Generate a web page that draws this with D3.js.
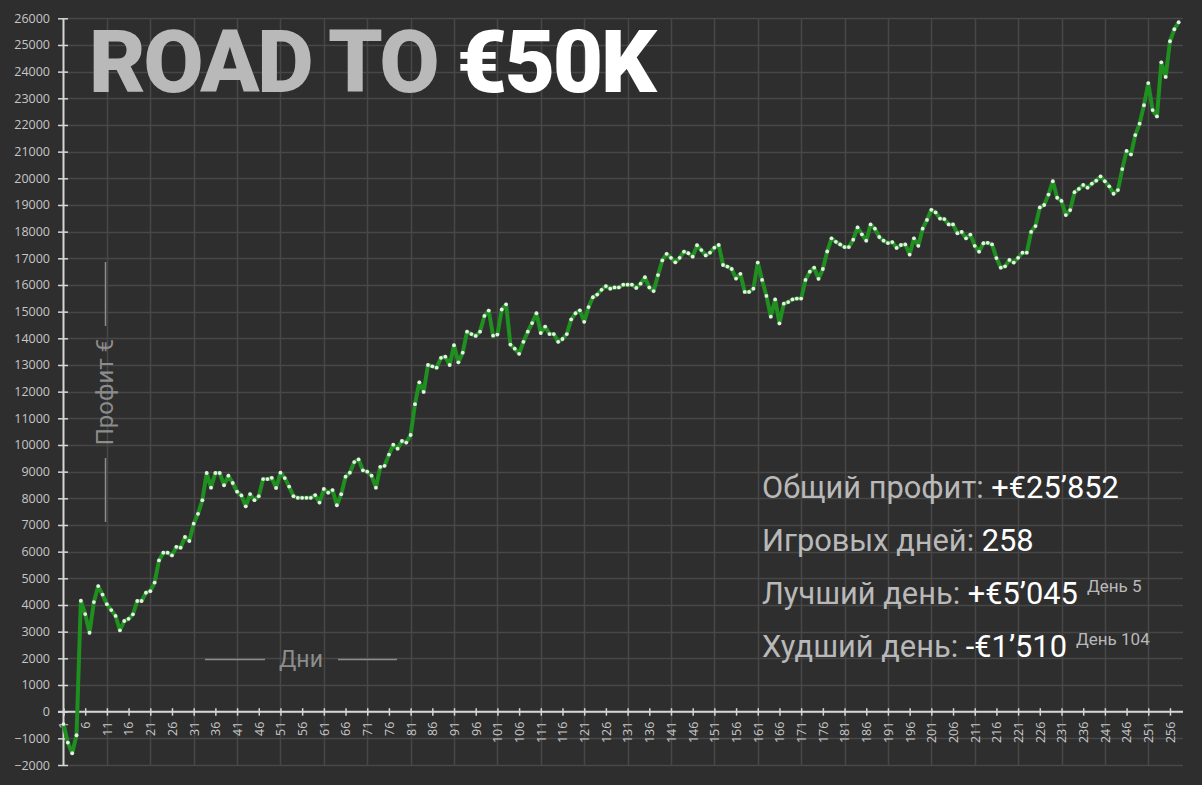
<!DOCTYPE html>
<html>
<head>
<meta charset="utf-8">
<script src="https://cdn.jsdelivr.net/npm/d3@7"></script>
<style>
  html, body { margin: 0; padding: 0; background: #2e2e2e; }
  svg { display: block; }
</style>
</head>
<body>
<svg id="chart" width="1202" height="785"></svg>
<script>
// ---- data ----
const days = d3.range(1, 259);
const profit = [
  -465, -1160, -1560, -885, 4160, 3660, 2960, 4110, 4710, 4390,
  4030, 3810, 3590, 3050, 3400, 3480, 3650, 4150, 4150, 4460,
  4520, 4840, 5670, 5960, 5960, 5860, 6180, 6150, 6550, 6400,
  7050, 7420, 7930, 8950, 8400, 8950, 8950, 8490, 8850, 8575,
  8250, 8110, 7700, 8160, 7930, 8080, 8720, 8720, 8770, 8390,
  8960, 8760, 8440, 8080, 8020, 8020, 8020, 8020, 8120, 7840,
  8350, 8210, 8310, 7740, 8155, 8810, 8960, 9360, 9460, 9050,
  9000, 8850, 8400, 9180, 9220, 9640, 10010, 9860, 10150, 10090,
  10375, 11530, 12350, 11990, 13000, 12950, 12900, 13270, 13310, 13000,
  13740, 13100, 13460, 14250, 14160, 14090, 14250, 14840, 15040, 14100,
  14140, 15080, 15275, 13765, 13610, 13420, 13870, 14250, 14570, 14940,
  14200, 14440, 14160, 14160, 13870, 13975, 14160, 14710, 14940, 15050,
  14620, 15170, 15540, 15640, 15820, 15960, 15860, 15910, 15910, 16010,
  16010, 16010, 15890, 16050, 16290, 15910, 15770, 16370, 16920, 17170,
  17020, 16850, 17020, 17250, 17190, 17060, 17490, 17310, 17110, 17210,
  17400, 17500, 16750, 16690, 16600, 16240, 16420, 15740, 15740, 15860,
  16840, 16190, 15590, 14810, 15460, 14560, 15300, 15360, 15460, 15490,
  15490, 16190, 16500, 16650, 16230, 16600, 17255, 17750, 17620, 17520,
  17420, 17420, 17700, 18160, 17900, 17660, 18270, 18110, 17800, 17660,
  17570, 17610, 17390, 17500, 17520, 17140, 17750, 17470, 18110, 18440,
  18820, 18720, 18490, 18470, 18270, 18270, 17940, 17990, 17750, 17890,
  17470, 17250, 17565, 17580, 17520, 17010, 16650, 16700, 16940, 16840,
  17020, 17210, 17210, 17990, 18210, 18910, 19000, 19390, 19890, 19270,
  19150, 18620, 18810, 19480, 19600, 19750, 19650, 19800, 19910, 20070,
  19890, 19700, 19420, 19560, 20345, 21025, 20895, 21620, 22050, 22740,
  23570, 22560, 22320, 24350, 23800, 25140, 25590, 25852
];
const yTicks = d3.range(-2000, 26001, 1000);
const xTicks = d3.range(1, 257, 5);
const xGrid = d3.range(11, 252, 10);

const titleParts = [["ROAD TO ", "#b9b9b9"], ["€50K", "#ffffff"]];
const statLabels = ["Общий профит: ", "Игровых дней: ", "Лучший день: ", "Худший день: "];
const statValues = ["+€25’852", "258", "+€5’045", "-€1’510"];
const statNotes = ["", "", "День 5", "День 104"];
const yAxisTitle = "Профит €";
const xAxisTitle = "Дни";

// ---- layout ----
const svg = d3.select("#chart");
const pL = 63, pR = 1183, pT = 18.3, pB = 765;
const x = d3.scaleLinear().domain([1, 259]).range([pL + 0.5, pR]);
const y = d3.scaleLinear().domain([-2000, 26000]).range([pB, pT]);

const gridColor = "#474747";
const axisColor = "#d6d6d6";
const labelColor = "#c6c6c6";

// grid
svg.append("g").selectAll("line").data(yTicks).join("line")
  .attr("x1", pL).attr("x2", pR)
  .attr("y1", d => Math.round(y(d)) + 0.5).attr("y2", d => Math.round(y(d)) + 0.5)
  .attr("stroke", gridColor).attr("stroke-width", 1.5);
svg.append("g").selectAll("line").data(xGrid).join("line")
  .attr("x1", d => Math.round(x(d)) + 0.5).attr("x2", d => Math.round(x(d)) + 0.5)
  .attr("y1", pT).attr("y2", pB)
  .attr("stroke", gridColor).attr("stroke-width", 1.5);

// y axis
const yAxis = svg.append("g").attr("transform", `translate(${pL},0)`)
  .call(d3.axisLeft(y).tickValues(yTicks).tickFormat(d3.format("d")).tickSize(5).tickSizeOuter(0));
yAxis.select(".domain").attr("stroke", axisColor).attr("stroke-width", 2);
yAxis.selectAll(".tick line").attr("x1", -5).attr("x2", 5).attr("stroke", axisColor).attr("stroke-width", 1.5);
yAxis.selectAll(".tick text").attr("x", -13)
  .attr("fill", labelColor).style("font-family", "'Open Sans', 'Noto Sans', sans-serif").style("font-size", "12.5px");

// x axis
const xAxis = svg.append("g").attr("transform", `translate(0,${y(0)})`)
  .call(d3.axisBottom(x).tickValues(xTicks).tickFormat(d3.format("d")).tickSize(4).tickSizeOuter(0));
xAxis.select(".domain").attr("d", `M${pL - 5},0H${pR}`).attr("stroke", axisColor).attr("stroke-width", 2);
xAxis.selectAll(".tick line").attr("y1", -3.5).attr("y2", 4).attr("stroke", axisColor).attr("stroke-width", 1.5);
xAxis.selectAll(".tick text")
  .attr("transform", "rotate(-90)")
  .attr("x", -10).attr("y", 0).attr("dy", "0.35em")
  .attr("text-anchor", "end")
  .attr("fill", labelColor).style("font-family", "'Open Sans', 'Noto Sans', sans-serif").style("font-size", "12.5px");

// line
const line = d3.line().x((d, i) => x(days[i])).y(d => y(d));
svg.append("path").datum(profit)
  .attr("d", line).attr("fill", "none")
  .attr("stroke", "#1f8f1f").attr("stroke-width", 4).attr("stroke-linejoin", "round");
svg.append("g").selectAll("circle").data(profit).join("circle")
  .attr("cx", (d, i) => x(days[i])).attr("cy", d => y(d)).attr("r", 1.9)
  .attr("fill", "#ececec");

// title
const title = svg.append("text").attr("x", 89).attr("y", 92)
  .style("font-family", "Roboto, sans-serif").style("font-weight", 900)
  .style("font-size", "87px").style("letter-spacing", "-2.3px");
title.selectAll("tspan").data(titleParts).join("tspan")
  .text(d => d[0]).attr("fill", d => d[1]);

// stats block
const sfont = "Roboto, sans-serif";
statLabels.forEach((lab, i) => {
  const t = svg.append("text").attr("x", 762).attr("y", 498 + i * 53)
    .style("font-family", sfont).style("font-size", "30.8px");
  t.append("tspan").text(lab).attr("fill", "#b9b9b9");
  t.append("tspan").text(statValues[i]).attr("fill", "#ffffff");
  if (statNotes[i]) {
    t.append("tspan").text(statNotes[i]).attr("fill", "#b9b9b9")
      .attr("dx", 9).attr("dy", -12).style("font-size", "17px");
  }
});

// axis titles
const atColor = "#8c8c8c";
svg.append("text").attr("transform", "translate(113,392) rotate(-90)")
  .attr("text-anchor", "middle").attr("fill", atColor)
  .style("font-family", sfont).style("font-size", "24px").text(yAxisTitle);
svg.append("line").attr("x1", 105.5).attr("x2", 105.5).attr("y1", 262).attr("y2", 326)
  .attr("stroke", atColor).attr("stroke-width", 1.5);
svg.append("line").attr("x1", 105.5).attr("x2", 105.5).attr("y1", 458).attr("y2", 522)
  .attr("stroke", atColor).attr("stroke-width", 1.5);
svg.append("text").attr("x", 301).attr("y", 667)
  .attr("text-anchor", "middle").attr("fill", atColor)
  .style("font-family", sfont).style("font-size", "23px").text(xAxisTitle);
svg.append("line").attr("x1", 205).attr("x2", 265).attr("y1", 659.5).attr("y2", 659.5)
  .attr("stroke", atColor).attr("stroke-width", 1.5);
svg.append("line").attr("x1", 338).attr("x2", 397).attr("y1", 659.5).attr("y2", 659.5)
  .attr("stroke", atColor).attr("stroke-width", 1.5);
</script>
</body>
</html>
